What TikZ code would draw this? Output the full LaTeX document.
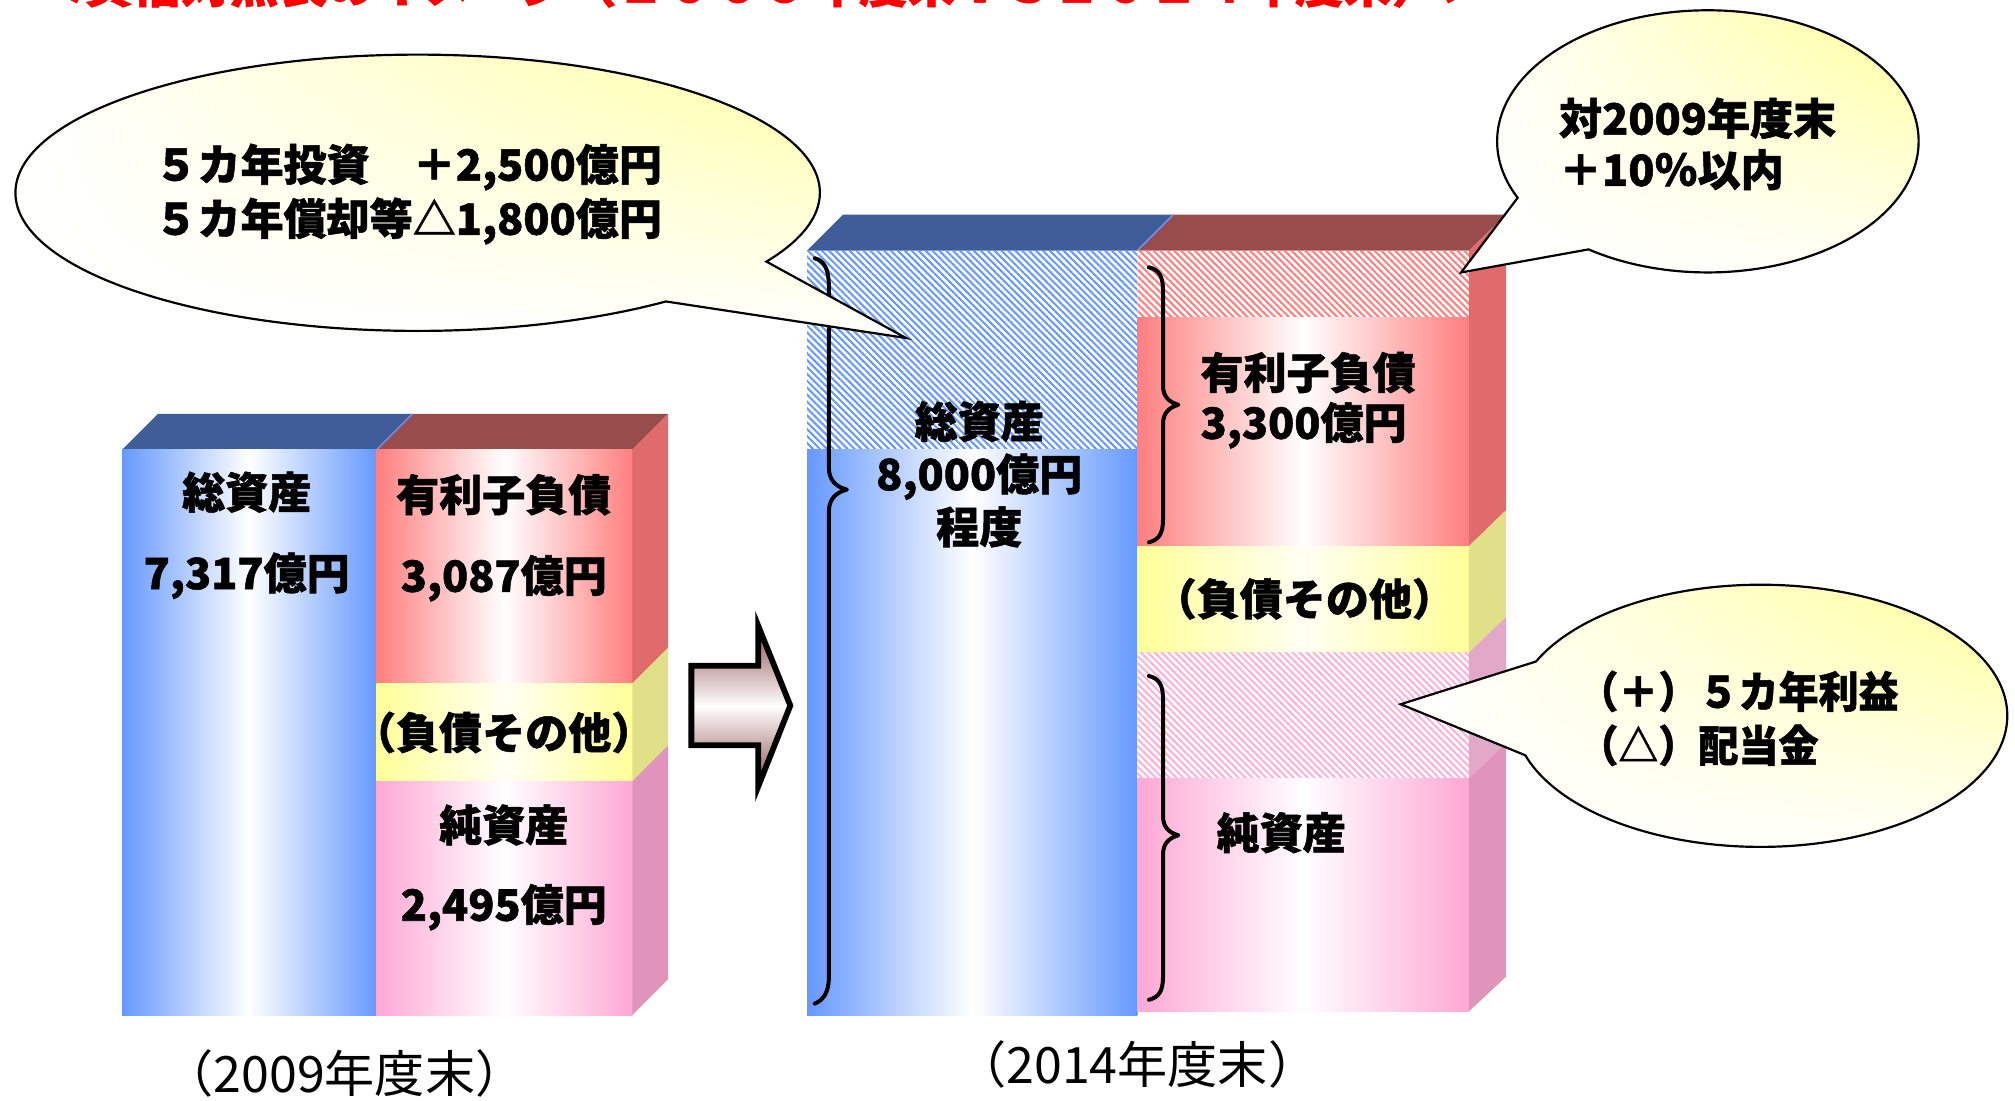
\documentclass[tikz,border=0pt]{standalone}
\usepackage{fontspec}
\setmainfont{Noto Sans CJK JP}[BoldFeatures={FakeBold=1.2}]
\usetikzlibrary{patterns.meta,shapes.callouts,shadings}
\definecolor{blueE}{HTML}{6699FF}
\definecolor{blueTop}{HTML}{3F5D99}
\definecolor{redE}{HTML}{FF7F7F}
\definecolor{redTop}{HTML}{994C4C}
\definecolor{redSide}{HTML}{E06B6B}
\definecolor{yelE}{HTML}{FFFF99}
\definecolor{yelSide}{HTML}{E0E088}
\definecolor{pinkE}{HTML}{FFA8D4}
\definecolor{pinkSide}{HTML}{E093BB}
\definecolor{pinkSideL}{HTML}{E3A8C8}
\definecolor{pinkH}{HTML}{FFB0D8}
\definecolor{bubY}{HTML}{FFFF99}
\definecolor{arrE}{HTML}{8E4E4E}
\tikzset{
  lbl/.style={font=\bfseries\fontsize{33.5}{37}\selectfont, inner sep=0pt},
  captext/.style={font=\fontsize{39}{42}\selectfont, inner sep=0pt},
  brc/.style={line width=3.1pt, line cap=round, line join=round},
  bubble/.style={ellipse callout, draw=black, line width=1.7pt, shade,
     upper right=bubY, upper left=white, lower left=white, lower right=white,
     inner sep=0pt},
  hatch/.style={pattern={Lines[angle=-45,distance=3.8pt,line width=1.6pt]}},
  gradfill/.style={left color=#1, right color=#1, middle color=white},
}
\begin{document}
\begin{tikzpicture}[x=1pt,y=-1pt]
\useasboundingbox (0,0) rectangle (1568,856);
\clip (0,0) rectangle (1568,856);
% title (cut at top)
\node[font=\bfseries\fontsize{37.7}{40}\selectfont, text=red, anchor=base west, inner sep=0pt] (title) at (28,2) {＜貸借対照表のイメージ（２００９年度末ＶＳ２０１４年度末）＞};

% ===== left chart (2009) =====
\fill[blueTop] (95,350) -- (123,322) -- (321,322) -- (293,350) -- cycle;
\fill[redTop] (293,350) -- (321,322) -- (520,322) -- (492,350) -- cycle;
\draw[blueE, line width=1pt] (293,350) -- (321,322);
\shade[gradfill=blueE] (95,350) rectangle (293,790);
\shade[gradfill=redE] (293,350) rectangle (492,532);
\shade[left color=yelE, right color=yelE, middle color=yelE!12!white] (293,532) rectangle (492,608);
\shade[gradfill=pinkE] (293,608) rectangle (492,790);
\fill[redSide] (492,350) -- (520,322) -- (520,504) -- (492,532) -- cycle;
\fill[yelSide] (492,532) -- (520,504) -- (520,580) -- (492,608) -- cycle;
\fill[pinkSide] (492,608) -- (520,580) -- (520,762) -- (492,790) -- cycle;

\node[lbl] (l1) at (192,383) {総資産};
\node[lbl] (l2) at (192,448) {7,317億円};
\node[lbl] (l3) at (392,385) {有利子負債};
\node[lbl] (l4) at (392,450) {3,087億円};
\node[lbl] (l5) at (392,570) {（負債その他）};
\node[lbl] (l6) at (392,642) {純資産};
\node[lbl] (l7) at (392,706) {2,495億円};

% ===== block arrow =====
\shade[top color=arrE, bottom color=arrE, middle color=white, draw=black, line width=4.5pt, line join=miter]
  (538,518) -- (590,518) -- (590,487) -- (615,549) -- (590,612) -- (590,580) -- (538,580) -- cycle;

% ===== right chart (2014) =====
\fill[blueTop] (628,195) -- (656,167) -- (913,167) -- (885,195) -- cycle;
\fill[redTop] (885,195) -- (913,167) -- (1172,167) -- (1143,195) -- cycle;
\draw[blueE, line width=1pt] (885,195) -- (913,167);
\fill[white] (628,195) rectangle (885,350);
\fill[hatch, pattern color=blueE] (628,195) rectangle (885,350);
\shade[gradfill=blueE] (628,350) rectangle (885,790);
\fill[white] (885,195) rectangle (1143,247);
\fill[hatch, pattern color=redE] (885,195) rectangle (1143,247);
\shade[gradfill=redE] (885,247) rectangle (1143,425);
\shade[left color=yelE, right color=yelE, middle color=yelE!12!white] (885,425) rectangle (1143,508);
\fill[white] (885,508) rectangle (1143,606);
\fill[hatch, pattern color=pinkH] (885,508) rectangle (1143,606);
\shade[gradfill=pinkE] (885,606) rectangle (1143,787);
\fill[redSide] (1143,195) -- (1172,167) -- (1172,397) -- (1143,425) -- cycle;
\fill[yelSide] (1143,425) -- (1172,397) -- (1172,480) -- (1143,508) -- cycle;
\fill[pinkSideL] (1143,508) -- (1172,480) -- (1172,578) -- (1143,606) -- cycle;
\fill[pinkSide] (1143,606) -- (1172,578) -- (1172,760) -- (1143,787) -- cycle;

% braces
\draw[brc] (634,201) .. controls (642,203) and (645,210) .. (645,224) -- (645,364)
  .. controls (645,374) and (651,379) .. (659,381) .. controls (651,383) and (645,388) .. (645,398)
  -- (645,760) .. controls (645,772) and (641,778) .. (634,781);
\draw[brc] (894,208) .. controls (902,210) and (905,215) .. (905,226) -- (905,300)
  .. controls (905,309) and (910,313) .. (917,315) .. controls (910,317) and (905,321) .. (905,330)
  -- (905,404) .. controls (905,415) and (902,420) .. (894,422);
\draw[brc] (894,526) .. controls (902,528) and (905,533) .. (905,544) -- (905,635)
  .. controls (905,644) and (910,648) .. (917,650) .. controls (910,652) and (905,656) .. (905,665)
  -- (905,760) .. controls (905,771) and (902,776) .. (894,778);

\node[lbl] (r1) at (762,328) {総資産};
\node[lbl] (r2) at (762,371) {8,000億円};
\node[lbl] (r3) at (762,410) {程度};
\node[lbl, anchor=west] (r4) at (934,290) {有利子負債};
\node[lbl, anchor=west] (r5) at (934,331) {3,300億円};
\node[lbl] (r6) at (1015,466) {（負債その他）};
\node[lbl] (r7) at (997,648) {純資産};

% ===== callouts =====
\coordinate (p1) at (705,263);
\coordinate (p2) at (1137,212);
\coordinate (p3) at (1090,548);
\node[bubble, minimum width=626pt, minimum height=215pt, callout absolute pointer={(p1)}, callout pointer arc=22] (b1) at (325,150) {};
\node[bubble, minimum width=328pt, minimum height=204pt, callout absolute pointer={(p2)}, callout pointer arc=30] (b2) at (1329,110) {};
\node[bubble, minimum width=384pt, minimum height=204pt, callout absolute pointer={(p3)}, callout pointer arc=42] (b3) at (1370,557) {};

\node[lbl, anchor=west] (c1) at (120,130) {５カ年投資　＋2,500億円};
\node[lbl, anchor=west] (c2) at (120,172) {５カ年償却等△1,800億円};
\node[lbl, anchor=west] (c3) at (1213,92) {対2009年度末};
\node[lbl, anchor=west] (c4) at (1213,132) {＋10％以内};
\node[lbl, anchor=west, xscale=0.93] (c5) at (1228,538) {（＋）５カ年利益};
\node[lbl, anchor=west, xscale=0.93] (c6) at (1228,580) {（△）配当金};

% captions
\node[captext] (y1) at (268,835) {（2009年度末）};
\node[captext] (y2) at (885,828) {（2014年度末）};
\end{tikzpicture}
\end{document}
